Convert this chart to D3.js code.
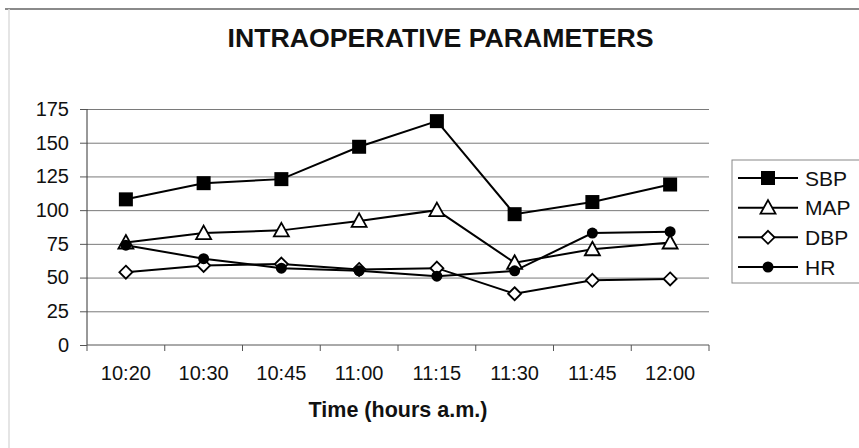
<html lang="en">
  <head>
    <meta charset="UTF-8" />
    <title>Intraoperative parameters</title>
    <script src="https://d3js.org/d3.v7.min.js"></script>
    <style>
      * {
        box-sizing: border-box;
        margin: 0;
        padding: 0;
      }
      body {
        background: #fff;
        width: 859px;
        height: 448px;
        overflow: hidden;
      }
      text {
        font-family: "Liberation Sans", Arial, sans-serif;
        fill: #111;
      }
    </style>
  </head>
  <body>
    <svg id="chart" width="859" height="448"></svg>
    <script>
      // data
      const times = ["10:20", "10:30", "10:45", "11:00", "11:15", "11:30", "11:45", "12:00"];
      const sbp = [108, 120, 123, 147, 166, 97, 106, 119];
      const map = [76, 83, 85, 92, 100, 61, 71, 76];
      const dbp = [54, 59, 60, 56, 57, 38, 48, 49];
      const hr = [74, 64, 57, 55, 51, 55, 83, 84];
      const yTicks = [0, 25, 50, 75, 100, 125, 150, 175];

      const series = [
        { name: "SBP", values: sbp, marker: "square" },
        { name: "MAP", values: map, marker: "triangle" },
        { name: "DBP", values: dbp, marker: "diamond" },
        { name: "HR", values: hr, marker: "circle" },
      ];

      const svg = d3.select("#chart");

      // outer frame (cut at right / bottom like the screenshot)
      svg.append("line").attr("x1", 5).attr("x2", 859).attr("y1", 9).attr("y2", 9)
        .attr("stroke", "#8a8a8a").attr("stroke-width", 2);
      svg.append("line").attr("x1", 9).attr("x2", 9).attr("y1", 9).attr("y2", 448)
        .attr("stroke", "#dcdcdc").attr("stroke-width", 1.5);

      const plotLeft = 87, plotRight = 709, plotTop = 109, plotBottom = 345;

      const x = d3.scaleBand().domain(times).range([plotLeft, plotRight]).padding(0);
      const y = d3.scaleLinear().domain([0, 175]).range([plotBottom, plotTop]);
      const cx = (t) => x(t) + x.bandwidth() / 2;

      // gridlines
      svg.append("g")
        .attr("transform", `translate(${plotLeft},0)`)
        .call(d3.axisLeft(y).tickValues(yTicks.slice(1)).tickSize(-(plotRight - plotLeft)).tickFormat(""))
        .call((g) => g.select(".domain").remove())
        .selectAll("line").attr("stroke", "#7a7a7a").attr("stroke-width", 1);

      // y axis
      const yAxis = svg.append("g")
        .attr("transform", `translate(${plotLeft},0)`)
        .call(d3.axisLeft(y).tickValues(yTicks).tickSize(7).tickPadding(11));
      yAxis.select(".domain").attr("stroke", "#333").attr("d", `M0,${plotTop}V${plotBottom}`);
      yAxis.selectAll("line").attr("stroke", "#555");
      yAxis.selectAll("text").attr("font-size", 20).attr("fill", "#111")
        .attr("font-family", "Liberation Sans, Arial, sans-serif");

      // x axis: labels centred on categories, ticks at band edges
      const xAxis = svg.append("g")
        .attr("transform", `translate(0,${plotBottom})`)
        .call(d3.axisBottom(x).tickSize(0).tickPadding(21));
      xAxis.select(".domain").attr("stroke", "#555").attr("d", `M${plotLeft},0H${plotRight}`);
      xAxis.selectAll("text").attr("font-size", 20).attr("fill", "#111")
        .attr("font-family", "Liberation Sans, Arial, sans-serif");
      const edges = times.map((t) => x(t)).concat([plotRight]);
      xAxis.selectAll(".edge").data(edges).enter().append("line")
        .attr("class", "edge")
        .attr("x1", (d) => d).attr("x2", (d) => d)
        .attr("y1", 0).attr("y2", 6)
        .attr("stroke", "#555");

      // markers
      function drawMarker(g, type) {
        if (type === "square") {
          g.append("rect").attr("x", -7).attr("y", -7).attr("width", 14).attr("height", 14)
            .attr("fill", "#000");
        } else if (type === "triangle") {
          g.append("path").attr("d", "M0,-7.5L7.5,6L-7.5,6Z")
            .attr("fill", "#fff").attr("stroke", "#000").attr("stroke-width", 1.8);
        } else if (type === "diamond") {
          g.append("path").attr("d", "M0,-6.5L6.5,0L0,6.5L-6.5,0Z")
            .attr("fill", "#fff").attr("stroke", "#000").attr("stroke-width", 1.8);
        } else {
          g.append("circle").attr("r", 5.5).attr("fill", "#000");
        }
      }

      const line = d3.line().x((d, i) => cx(times[i])).y((d) => y(d));

      series.forEach((s) => {
        svg.append("path").datum(s.values)
          .attr("d", line)
          .attr("fill", "none").attr("stroke", "#000").attr("stroke-width", 2);
      });
      series.forEach((s) => {
        svg.append("g").selectAll("g").data(s.values).enter().append("g")
          .attr("transform", (d, i) => `translate(${cx(times[i])},${y(d)})`)
          .each(function () { drawMarker(d3.select(this), s.marker); });
      });

      // title
      svg.append("text").attr("x", 440.5).attr("y", 47)
        .attr("text-anchor", "middle").attr("font-size", 26.7).attr("font-weight", "bold")
        .text("INTRAOPERATIVE PARAMETERS");

      // axis title
      svg.append("text").attr("x", 398).attr("y", 417)
        .attr("text-anchor", "middle").attr("font-size", 21.5).attr("font-weight", "bold")
        .text("Time (hours a.m.)");

      // legend (box runs off the right edge of the picture)
      const legend = svg.append("g");
      legend.append("rect").attr("x", 732).attr("y", 160).attr("width", 140).attr("height", 123)
        .attr("fill", "#fff").attr("stroke", "#888").attr("stroke-width", 1);
      const rowY = d3.scalePoint().domain(series.map((s) => s.name)).range([178, 267]);
      series.forEach((s) => {
        const row = legend.append("g").attr("transform", `translate(0,${rowY(s.name)})`);
        row.append("line").attr("x1", 738).attr("x2", 798).attr("y1", 0).attr("y2", 0)
          .attr("stroke", "#000").attr("stroke-width", 2);
        drawMarker(row.append("g").attr("transform", "translate(768,0)"), s.marker);
        row.append("text").attr("x", 805).attr("y", 7.5).attr("font-size", 21).text(s.name);
      });
    </script>
  </body>
</html>
